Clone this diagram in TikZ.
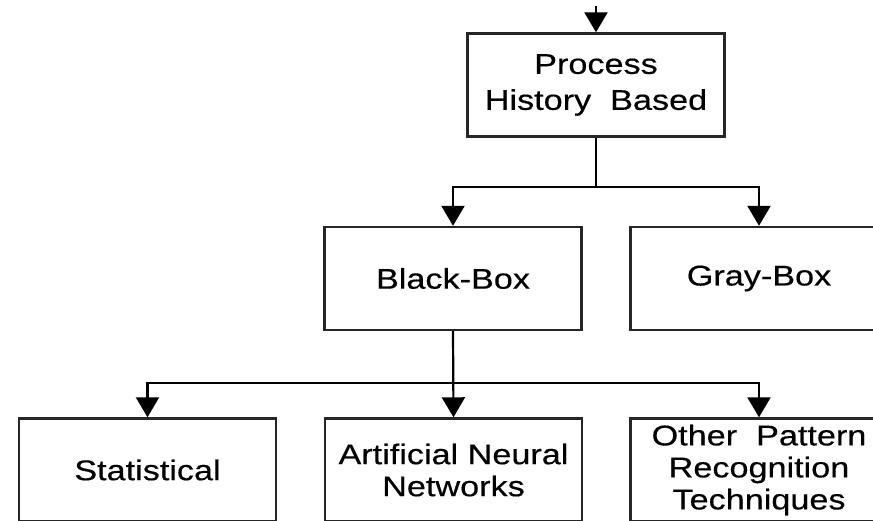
\documentclass[tikz,border=0pt]{standalone}
\usepackage{fontspec}
\setmainfont{Liberation Sans}[FakeStretch=1.2,FakeBold=0.4]
\usetikzlibrary{arrows.meta}
\begin{document}
\begin{tikzpicture}[x=1pt,y=-1pt,
  box/.style={draw=black!85, line width=2.4pt, rectangle, minimum width=257pt, minimum height=103pt, align=center, inner sep=0pt},
  topfont/.style={font=\fontsize{28.5}{36}\selectfont},
  lowfont/.style={font=\fontsize{28.5}{32}\selectfont},
  conn/.style={draw=black, line width=2.2pt},
  arr/.style={conn, -{Triangle[width=23pt,length=20pt]}}]
\clip (0,0) rectangle (873,521);
\fill[white] (0,0) rectangle (873,521);
\node[box,topfont] (top) at (596,85) {Process\\History\ \ Based};
\node[box,topfont] (bb) at (453,278.5) {Black-Box};
\node[box,topfont] (gb) at (759,278.5) {Gray-Box};
\node[box,lowfont] (stat) at (147.5,470) {Statistical};
\node[box,lowfont] (ann) at (453.5,470) {Artificial Neural\\Networks};
\node[box,lowfont] (oth) at (759,470) {Other\ \ Pattern\\Recognition\\Techniques};
\coordinate (in) at (596,6);
\coordinate (j1) at (596,187);
\coordinate (j2) at (453.5,383);
\draw[arr] (in) -- (top.north);
\draw[conn] (top.south) -- (j1);
\draw[arr] (j1) -| (bb.north);
\draw[arr] (j1) -| (gb.north);
\draw[arr] (bb.south) -- (ann.north);
\draw[arr] (j2) -| (stat.north);
\draw[arr] (j2) -| (oth.north);
\end{tikzpicture}
\end{document}
